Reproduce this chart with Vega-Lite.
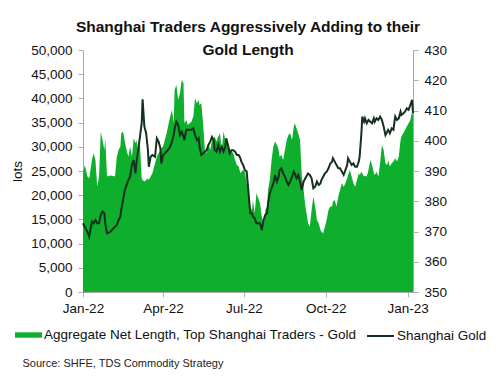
{
  "$schema": "https://vega.github.io/schema/vega-lite/v6.json",
  "width": 330,
  "height": 242,
  "autosize": {"type": "none"},
  "padding": {"left": 83, "top": 50, "right": 87, "bottom": 88},
  "background": "white",
  "config": {"view": {"stroke": null}, "font": "Liberation Sans"},
  "title": {
    "text": ["Shanghai Traders Aggressively Adding to their", "Gold Length"],
    "fontSize": 15.5,
    "fontWeight": "bold",
    "font": "Liberation Sans",
    "color": "#111111",
    "anchor": "middle",
    "lineHeight": 23,
    "offset": -15
  },
  "data": {
    "values": [
      {"date": "2022-01-01", "lots": 24530, "gold": 372.7},
      {"date": "2022-01-03", "lots": 26250, "gold": 371.6},
      {"date": "2022-01-06", "lots": 23840, "gold": 369.9},
      {"date": "2022-01-08", "lots": 23490, "gold": 368.3},
      {"date": "2022-01-11", "lots": 27280, "gold": 373.3},
      {"date": "2022-01-13", "lots": 28660, "gold": 372.7},
      {"date": "2022-01-15", "lots": 27280, "gold": 373.8},
      {"date": "2022-01-17", "lots": 21770, "gold": 372.7},
      {"date": "2022-01-19", "lots": 23840, "gold": 372.7},
      {"date": "2022-01-21", "lots": 33140, "gold": 375.5},
      {"date": "2022-01-23", "lots": 31420, "gold": 376.6},
      {"date": "2022-01-25", "lots": 29350, "gold": 376.0},
      {"date": "2022-01-26", "lots": 31760, "gold": 372.7},
      {"date": "2022-01-28", "lots": 23840, "gold": 369.4},
      {"date": "2022-02-01", "lots": 24050, "gold": 369.9},
      {"date": "2022-02-04", "lots": 23980, "gold": 371.0},
      {"date": "2022-02-06", "lots": 23840, "gold": 371.6},
      {"date": "2022-02-08", "lots": 27970, "gold": 372.1},
      {"date": "2022-02-10", "lots": 29350, "gold": 373.8},
      {"date": "2022-02-12", "lots": 30040, "gold": 374.9},
      {"date": "2022-02-13", "lots": 32800, "gold": 377.1},
      {"date": "2022-02-15", "lots": 33140, "gold": 380.4},
      {"date": "2022-02-17", "lots": 31070, "gold": 383.7},
      {"date": "2022-02-19", "lots": 29350, "gold": 385.4},
      {"date": "2022-02-21", "lots": 27970, "gold": 387.0},
      {"date": "2022-02-23", "lots": 30040, "gold": 388.1},
      {"date": "2022-02-25", "lots": 27970, "gold": 392.0},
      {"date": "2022-02-27", "lots": 31760, "gold": 393.6},
      {"date": "2022-03-01", "lots": 30730, "gold": 389.2},
      {"date": "2022-03-02", "lots": 31420, "gold": 392.5},
      {"date": "2022-03-04", "lots": 29350, "gold": 396.9},
      {"date": "2022-03-06", "lots": 30730, "gold": 401.3},
      {"date": "2022-03-08", "lots": 23490, "gold": 405.8},
      {"date": "2022-03-09", "lots": 23150, "gold": 413.7},
      {"date": "2022-03-11", "lots": 22810, "gold": 404.7},
      {"date": "2022-03-13", "lots": 23150, "gold": 402.5},
      {"date": "2022-03-15", "lots": 23490, "gold": 396.9},
      {"date": "2022-03-16", "lots": 23150, "gold": 391.4},
      {"date": "2022-03-18", "lots": 23840, "gold": 394.7},
      {"date": "2022-03-20", "lots": 24530, "gold": 395.3},
      {"date": "2022-03-23", "lots": 26600, "gold": 394.7},
      {"date": "2022-03-25", "lots": 27970, "gold": 400.8},
      {"date": "2022-03-27", "lots": 28660, "gold": 399.7},
      {"date": "2022-03-29", "lots": 29350, "gold": 397.5},
      {"date": "2022-03-30", "lots": 29700, "gold": 392.5},
      {"date": "2022-04-01", "lots": 30040, "gold": 395.3},
      {"date": "2022-04-05", "lots": 32800, "gold": 396.4},
      {"date": "2022-04-09", "lots": 36240, "gold": 398.0},
      {"date": "2022-04-11", "lots": 37620, "gold": 399.7},
      {"date": "2022-04-13", "lots": 34860, "gold": 401.9},
      {"date": "2022-04-14", "lots": 41750, "gold": 404.1},
      {"date": "2022-04-16", "lots": 42790, "gold": 406.3},
      {"date": "2022-04-18", "lots": 39690, "gold": 405.2},
      {"date": "2022-04-20", "lots": 41060, "gold": 401.9},
      {"date": "2022-04-22", "lots": 43820, "gold": 403.0},
      {"date": "2022-04-24", "lots": 43130, "gold": 401.3},
      {"date": "2022-04-25", "lots": 34860, "gold": 400.2},
      {"date": "2022-04-27", "lots": 35550, "gold": 403.6},
      {"date": "2022-04-29", "lots": 34520, "gold": 403.6},
      {"date": "2022-05-03", "lots": 35210, "gold": 403.6},
      {"date": "2022-05-05", "lots": 36240, "gold": 404.1},
      {"date": "2022-05-07", "lots": 40030, "gold": 401.9},
      {"date": "2022-05-09", "lots": 39000, "gold": 400.2},
      {"date": "2022-05-11", "lots": 39690, "gold": 400.8},
      {"date": "2022-05-12", "lots": 38650, "gold": 398.0},
      {"date": "2022-05-14", "lots": 39000, "gold": 395.3},
      {"date": "2022-05-16", "lots": 34860, "gold": 395.8},
      {"date": "2022-05-18", "lots": 29350, "gold": 396.4},
      {"date": "2022-05-20", "lots": 28660, "gold": 396.9},
      {"date": "2022-05-22", "lots": 30730, "gold": 398.6},
      {"date": "2022-05-24", "lots": 29350, "gold": 399.7},
      {"date": "2022-05-26", "lots": 31420, "gold": 401.3},
      {"date": "2022-05-28", "lots": 31760, "gold": 400.2},
      {"date": "2022-05-29", "lots": 32110, "gold": 396.9},
      {"date": "2022-05-31", "lots": 31070, "gold": 396.4},
      {"date": "2022-06-02", "lots": 32110, "gold": 398.6},
      {"date": "2022-06-04", "lots": 32800, "gold": 396.4},
      {"date": "2022-06-06", "lots": 29350, "gold": 398.0},
      {"date": "2022-06-08", "lots": 33140, "gold": 396.4},
      {"date": "2022-06-10", "lots": 31420, "gold": 398.0},
      {"date": "2022-06-11", "lots": 30730, "gold": 400.8},
      {"date": "2022-06-13", "lots": 30040, "gold": 398.6},
      {"date": "2022-06-15", "lots": 29350, "gold": 395.8},
      {"date": "2022-06-17", "lots": 29010, "gold": 396.9},
      {"date": "2022-06-19", "lots": 28660, "gold": 396.9},
      {"date": "2022-06-21", "lots": 27280, "gold": 396.4},
      {"date": "2022-06-23", "lots": 26250, "gold": 395.3},
      {"date": "2022-06-25", "lots": 25910, "gold": 395.3},
      {"date": "2022-06-27", "lots": 24530, "gold": 394.2},
      {"date": "2022-06-28", "lots": 24870, "gold": 393.1},
      {"date": "2022-06-30", "lots": 25220, "gold": 392.0},
      {"date": "2022-07-02", "lots": 24870, "gold": 390.3},
      {"date": "2022-07-04", "lots": 22460, "gold": 389.8},
      {"date": "2022-07-06", "lots": 20390, "gold": 383.2},
      {"date": "2022-07-08", "lots": 17640, "gold": 376.0},
      {"date": "2022-07-10", "lots": 16950, "gold": 376.0},
      {"date": "2022-07-11", "lots": 19020, "gold": 374.9},
      {"date": "2022-07-13", "lots": 16260, "gold": 374.4},
      {"date": "2022-07-15", "lots": 20390, "gold": 372.7},
      {"date": "2022-07-17", "lots": 19360, "gold": 372.7},
      {"date": "2022-07-19", "lots": 18330, "gold": 372.7},
      {"date": "2022-07-21", "lots": 15570, "gold": 370.5},
      {"date": "2022-07-23", "lots": 14190, "gold": 373.8},
      {"date": "2022-07-25", "lots": 16950, "gold": 375.5},
      {"date": "2022-07-27", "lots": 17640, "gold": 376.0},
      {"date": "2022-07-28", "lots": 21080, "gold": 379.3},
      {"date": "2022-07-30", "lots": 23150, "gold": 382.6},
      {"date": "2022-08-01", "lots": 27280, "gold": 384.3},
      {"date": "2022-08-03", "lots": 30040, "gold": 385.9},
      {"date": "2022-08-05", "lots": 31070, "gold": 388.7},
      {"date": "2022-08-07", "lots": 30380, "gold": 386.5},
      {"date": "2022-08-09", "lots": 29350, "gold": 388.1},
      {"date": "2022-08-10", "lots": 27970, "gold": 390.3},
      {"date": "2022-08-12", "lots": 28320, "gold": 390.9},
      {"date": "2022-08-14", "lots": 27280, "gold": 389.2},
      {"date": "2022-08-16", "lots": 29350, "gold": 388.1},
      {"date": "2022-08-18", "lots": 31420, "gold": 386.5},
      {"date": "2022-08-20", "lots": 32450, "gold": 385.4},
      {"date": "2022-08-22", "lots": 32800, "gold": 386.5},
      {"date": "2022-08-24", "lots": 31420, "gold": 388.1},
      {"date": "2022-08-26", "lots": 34170, "gold": 389.8},
      {"date": "2022-08-27", "lots": 34860, "gold": 389.2},
      {"date": "2022-08-29", "lots": 33830, "gold": 387.6},
      {"date": "2022-08-31", "lots": 32800, "gold": 388.7},
      {"date": "2022-09-02", "lots": 31420, "gold": 386.5},
      {"date": "2022-09-04", "lots": 23840, "gold": 383.7},
      {"date": "2022-09-06", "lots": 21080, "gold": 386.5},
      {"date": "2022-09-08", "lots": 17640, "gold": 387.6},
      {"date": "2022-09-10", "lots": 15570, "gold": 388.7},
      {"date": "2022-09-11", "lots": 14190, "gold": 389.2},
      {"date": "2022-09-13", "lots": 13500, "gold": 388.7},
      {"date": "2022-09-15", "lots": 16950, "gold": 387.6},
      {"date": "2022-09-17", "lots": 19710, "gold": 384.3},
      {"date": "2022-09-19", "lots": 17640, "gold": 384.8},
      {"date": "2022-09-21", "lots": 14880, "gold": 386.5},
      {"date": "2022-09-23", "lots": 14190, "gold": 385.4},
      {"date": "2022-09-25", "lots": 12820, "gold": 385.9},
      {"date": "2022-09-26", "lots": 12470, "gold": 387.0},
      {"date": "2022-09-28", "lots": 12130, "gold": 388.1},
      {"date": "2022-09-30", "lots": 13500, "gold": 389.2},
      {"date": "2022-10-02", "lots": 15000, "gold": 389.8},
      {"date": "2022-10-04", "lots": 16950, "gold": 390.9},
      {"date": "2022-10-06", "lots": 17640, "gold": 392.5},
      {"date": "2022-10-08", "lots": 17640, "gold": 393.1},
      {"date": "2022-10-09", "lots": 18670, "gold": 394.2},
      {"date": "2022-10-11", "lots": 19020, "gold": 393.1},
      {"date": "2022-10-13", "lots": 17640, "gold": 392.0},
      {"date": "2022-10-15", "lots": 19710, "gold": 390.9},
      {"date": "2022-10-17", "lots": 21080, "gold": 390.9},
      {"date": "2022-10-19", "lots": 22460, "gold": 389.8},
      {"date": "2022-10-21", "lots": 21770, "gold": 388.7},
      {"date": "2022-10-23", "lots": 22460, "gold": 390.3},
      {"date": "2022-10-25", "lots": 23490, "gold": 392.0},
      {"date": "2022-10-26", "lots": 24180, "gold": 394.2},
      {"date": "2022-10-28", "lots": 25220, "gold": 393.1},
      {"date": "2022-10-30", "lots": 23840, "gold": 392.0},
      {"date": "2022-11-01", "lots": 22460, "gold": 392.5},
      {"date": "2022-11-03", "lots": 21770, "gold": 391.4},
      {"date": "2022-11-05", "lots": 23150, "gold": 391.4},
      {"date": "2022-11-07", "lots": 24530, "gold": 393.1},
      {"date": "2022-11-08", "lots": 24180, "gold": 394.7},
      {"date": "2022-11-10", "lots": 24870, "gold": 402.5},
      {"date": "2022-11-11", "lots": 24500, "gold": 408.0},
      {"date": "2022-11-13", "lots": 23840, "gold": 406.3},
      {"date": "2022-11-14", "lots": 24000, "gold": 407.4},
      {"date": "2022-11-16", "lots": 23840, "gold": 405.8},
      {"date": "2022-11-18", "lots": 25220, "gold": 406.9},
      {"date": "2022-11-20", "lots": 27280, "gold": 406.3},
      {"date": "2022-11-22", "lots": 26250, "gold": 405.8},
      {"date": "2022-11-24", "lots": 24530, "gold": 407.4},
      {"date": "2022-11-25", "lots": 24180, "gold": 406.3},
      {"date": "2022-11-27", "lots": 24870, "gold": 407.4},
      {"date": "2022-11-29", "lots": 23840, "gold": 406.9},
      {"date": "2022-12-01", "lots": 26600, "gold": 408.0},
      {"date": "2022-12-03", "lots": 30380, "gold": 406.9},
      {"date": "2022-12-05", "lots": 29350, "gold": 404.7},
      {"date": "2022-12-07", "lots": 26600, "gold": 401.9},
      {"date": "2022-12-09", "lots": 26250, "gold": 403.0},
      {"date": "2022-12-10", "lots": 27280, "gold": 403.6},
      {"date": "2022-12-12", "lots": 25910, "gold": 402.5},
      {"date": "2022-12-14", "lots": 26600, "gold": 404.1},
      {"date": "2022-12-16", "lots": 26940, "gold": 403.6},
      {"date": "2022-12-18", "lots": 27630, "gold": 408.0},
      {"date": "2022-12-20", "lots": 26940, "gold": 406.9},
      {"date": "2022-12-22", "lots": 27970, "gold": 407.4},
      {"date": "2022-12-24", "lots": 31420, "gold": 409.6},
      {"date": "2022-12-25", "lots": 32110, "gold": 408.5},
      {"date": "2022-12-27", "lots": 32800, "gold": 409.0},
      {"date": "2022-12-29", "lots": 33490, "gold": 409.6},
      {"date": "2022-12-31", "lots": 34170, "gold": 410.7},
      {"date": "2023-01-02", "lots": 34860, "gold": 410.2},
      {"date": "2023-01-04", "lots": 35550, "gold": 411.8},
      {"date": "2023-01-06", "lots": 37270, "gold": 413.5},
      {"date": "2023-01-07", "lots": 36590, "gold": 409.1}
    ]
  },
  "layer": [
    {
      "mark": {"type": "area", "interpolate": "linear"},
      "encoding": {
        "x": {
          "field": "date",
          "type": "temporal",
          "scale": {
            "type": "utc",
            "domain": [
              {"year": 2022, "month": 1, "date": 1, "utc": true},
              {"year": 2023, "month": 1, "date": 7, "utc": true}
            ]
          },
          "axis": {
            "values": [
              {"year": 2022, "month": 1, "date": 1, "utc": true},
              {"year": 2022, "month": 4, "date": 1, "utc": true},
              {"year": 2022, "month": 7, "date": 1, "utc": true},
              {"year": 2022, "month": 10, "date": 1, "utc": true},
              {"year": 2023, "month": 1, "date": 1, "utc": true}
            ],
            "format": "%b-%y",
            "labelFlush": false,
            "labelOverlap": false,
            "labelFontSize": 13.5,
            "labelColor": "#111111",
            "labelPadding": 4,
            "tickSize": 5,
            "tickColor": "#b0b0b0",
            "domainColor": "#a8a8a8",
            "grid": false,
            "title": "Source: SHFE, TDS Commodity Strategy",
            "titleFontSize": 11,
            "titleFontWeight": "normal",
            "titleColor": "#222222",
            "titleAnchor": "start",
            "titleAlign": "left",
            "titleBaseline": "middle",
            "titleX": -61,
            "titleY": 71
          }
        },
        "y": {
          "field": "lots",
          "type": "quantitative",
          "scale": {"domain": [0, 50000], "nice": false},
          "axis": {
            "values": [0, 5000, 10000, 15000, 20000, 25000, 30000, 35000, 40000, 45000, 50000],
            "format": ",.0f",
            "labelFontSize": 13.5,
            "labelColor": "#111111",
            "labelPadding": 6,
            "tickSize": 5,
            "tickColor": "#b0b0b0",
            "domainColor": "#a8a8a8",
            "grid": false,
            "title": "lots",
            "titleFontSize": 13.5,
            "titleFontWeight": "normal",
            "titleColor": "#111111",
            "titlePadding": 6
          }
        },
        "fill": {
          "datum": "Aggregate Net Length, Top Shanghai Traders - Gold",
          "type": "nominal",
          "scale": {"range": ["#0daf2d"]},
          "legend": {
            "orient": "none",
            "legendX": -68,
            "legendY": 271.5,
            "title": null,
            "padding": 0,
            "symbolType": "M-1,-0.2H1V0.2H-1Z",
            "symbolSize": 729,
            "symbolStrokeWidth": 0,
            "symbolOpacity": 1,
            "labelFontSize": 13.5,
            "labelColor": "#111111",
            "labelOffset": 2,
            "labelLimit": 500
          }
        }
      }
    },
    {
      "mark": {"type": "line", "strokeWidth": 2},
      "encoding": {
        "x": {"field": "date", "type": "temporal"},
        "y": {
          "field": "gold",
          "type": "quantitative",
          "scale": {"domain": [350, 430], "nice": false, "zero": false},
          "axis": {
            "orient": "right",
            "values": [350, 360, 370, 380, 390, 400, 410, 420, 430],
            "format": ".0f",
            "labelFontSize": 13.5,
            "labelColor": "#111111",
            "labelPadding": 6,
            "tickSize": 5,
            "tickColor": "#b0b0b0",
            "domainColor": "#a8a8a8",
            "grid": false,
            "title": null
          }
        },
        "stroke": {
          "datum": "Shanghai Gold",
          "type": "nominal",
          "scale": {"range": ["#16301e"]},
          "legend": {
            "orient": "none",
            "legendX": 283,
            "legendY": 271.5,
            "title": null,
            "padding": 0,
            "symbolType": "stroke",
            "symbolSize": 729,
            "symbolStrokeWidth": 2,
            "labelFontSize": 13.5,
            "labelColor": "#111111",
            "labelOffset": 2,
            "labelLimit": 300
          }
        }
      }
    }
  ],
  "resolve": {"scale": {"y": "independent"}}
}
